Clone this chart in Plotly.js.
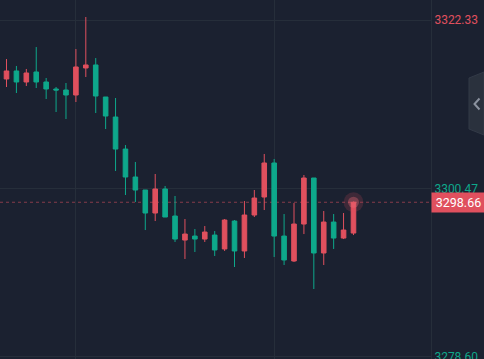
<!DOCTYPE html>
<html>
<head>
<meta charset="utf-8">
<script src="https://cdn.plot.ly/plotly-3.0.1.min.js"></script>
<style>
html,body{margin:0;padding:0;background:#1b2130;}
#chart{width:484px;height:359px;}
</style>
</head>
<body>
<div id="chart"></div>
<script>
// Candle index (time slots)
const idx = [0,1,2,3,4,5,6,7,8,9,10,11,12,13,14,15,16,17,18,19,20,21,22,23,24,25,26,27,28,29,30,31,32,33,34,35];
const opens  = [3314.67,3315.71,3314.28,3315.58,3314.28,3313.37,3313.24,3312.59,3316.10,3316.49,3312.33,3309.73,3305.57,3301.94,3300.25,3297.26,3300.38,3296.87,3293.75,3294.27,3293.88,3294.40,3292.59,3296.22,3292.33,3297.00,3299.34,3303.76,3294.27,3291.03,3295.83,3301.81,3292.07,3296.09,3294.01,3294.66];
const highs  = [3317.26,3316.36,3315.97,3318.82,3314.80,3313.63,3314.15,3318.56,3322.72,3317.39,3312.33,3312.20,3306.09,3303.89,3300.25,3302.33,3300.77,3299.47,3296.48,3295.18,3295.57,3294.92,3296.48,3296.35,3298.82,3300.25,3304.93,3304.28,3297.13,3298.56,3302.20,3301.81,3297.52,3297.13,3297.26,3298.76];
const lows   = [3313.63,3312.85,3313.76,3313.50,3312.07,3310.38,3309.47,3311.68,3314.93,3310.25,3308.17,3302.72,3299.60,3298.69,3295.05,3296.22,3296.74,3293.50,3291.29,3292.20,3293.50,3291.68,3292.33,3290.25,3291.42,3296.74,3297.65,3291.55,3290.51,3290.90,3294.53,3287.39,3290.51,3292.59,3293.88,3294.40];
const closes = [3315.71,3314.28,3315.45,3314.28,3313.37,3313.24,3312.59,3316.23,3316.49,3312.46,3309.86,3305.57,3301.94,3300.25,3297.26,3300.38,3296.74,3293.88,3294.53,3293.88,3294.79,3292.46,3296.35,3292.33,3297.00,3299.21,3303.76,3294.27,3291.16,3295.83,3301.81,3292.07,3296.09,3294.01,3295.05,3298.66];

const tickValues = [3278.60, 3300.47, 3322.33];
const tickLabels = ['3278.60', '3300.47', '3322.33'];
const tickColors = ['#0ea88b', '#0ea88b', '#e0505e'];
const lastPrice = 3298.66;
const gridSlots = [7, 27];

const RED = '#e0505e', GREEN = '#0ea88b';
const W = 484, H = 359, PLOT_W = 431;
const px = x => x / PLOT_W;          // pixel -> paper x
const py = y => 1 - y / H;           // pixel -> paper y

const traces = [
  {
    type: 'candlestick',
    x: idx, open: opens, high: highs, low: lows, close: closes,
    increasing: {line: {color: RED, width: 1}, fillcolor: RED},
    decreasing: {line: {color: GREEN, width: 1}, fillcolor: GREEN},
    whiskerwidth: 0,
    hoverinfo: 'skip',
    showlegend: false
  },
  {
    type: 'scatter', mode: 'markers',
    x: [idx[idx.length - 1]], y: [closes[closes.length - 1]],
    marker: {size: 20, color: 'rgba(224,80,94,0.18)', line: {width: 0}},
    hoverinfo: 'skip', showlegend: false
  },
  {
    type: 'scatter', mode: 'markers',
    x: [idx[idx.length - 1]], y: [closes[closes.length - 1]],
    marker: {size: 11, color: 'rgba(240,110,120,0.35)', line: {width: 0}},
    hoverinfo: 'skip', showlegend: false
  }
];

const layout = {
  width: W, height: H,
  paper_bgcolor: '#1b2130',
  plot_bgcolor: '#1b2130',
  margin: {l: 0, r: W - PLOT_W, t: 0, b: 0, pad: 0},
  showlegend: false,
  boxgap: 0.34,
  xaxis: {
    type: 'linear',
    range: [-0.656, 42.82],
    tickvals: gridSlots,
    showticklabels: false,
    ticks: '',
    showgrid: true, gridcolor: '#262e3a', gridwidth: 1,
    zeroline: false, showline: false,
    rangeslider: {visible: false},
    fixedrange: true
  },
  yaxis: {
    side: 'right',
    range: [3278.30, 3324.93],
    tickvals: tickValues,
    ticktext: tickLabels.map((t, i) => '<span style="color:' + tickColors[i] + '">' + t + '</span>'),
    ticks: '',
    ticklabelstandoff: 0,
    ticklabeloverflow: 'allow',
    tickfont: {family: 'Roboto, "Open Sans", sans-serif', size: 12, color: '#0ea88b'},
    showgrid: true, gridcolor: '#262e3a', gridwidth: 1,
    zeroline: false,
    showline: true, linecolor: '#262e3a', linewidth: 1,
    fixedrange: true
  },
  shapes: [
    {
      type: 'line', xref: 'paper', yref: 'y',
      x0: 0, x1: 1, y0: lastPrice, y1: lastPrice,
      line: {color: 'rgba(224,80,94,0.55)', width: 1, dash: '3px,3px'},
      layer: 'below'
    },
    {
      type: 'path', xref: 'paper', yref: 'paper',
      path: 'M ' + px(469) + ',' + py(78) + ' L ' + px(484) + ',' + py(72) +
            ' L ' + px(484) + ',' + py(135) + ' L ' + px(469) + ',' + py(129) + ' Z',
      fillcolor: '#2a313d', line: {color: '#333a47', width: 1},
      layer: 'above'
    },
    {
      type: 'path', xref: 'paper', yref: 'paper',
      path: 'M ' + px(479.5) + ',' + py(98.5) + ' L ' + px(474.5) + ',' + py(104) +
            ' L ' + px(479.5) + ',' + py(109.5),
      line: {color: '#8b929e', width: 2},
      layer: 'above'
    }
  ],
  annotations: [
    {
      xref: 'paper', yref: 'y',
      x: 1, y: lastPrice,
      xanchor: 'left', yanchor: 'middle',
      text: lastPrice.toFixed(2),
      showarrow: false,
      bgcolor: RED,
      borderpad: 2,
      width: 49, height: 15,
      align: 'center',
      font: {family: 'Roboto, "Open Sans", sans-serif', size: 12.5, color: '#ffffff'}
    }
  ]
};

Plotly.newPlot('chart', traces, layout, {displayModeBar: false, staticPlot: true});
</script>
</body>
</html>
